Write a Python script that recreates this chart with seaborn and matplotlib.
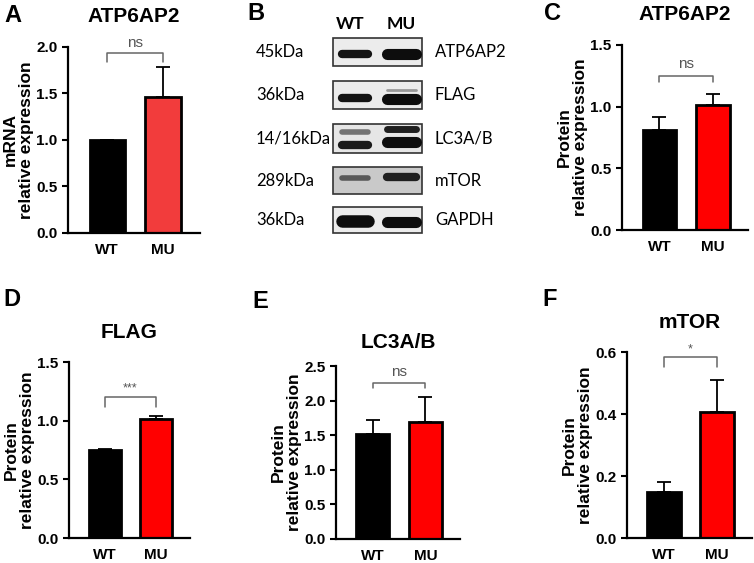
import numpy as np
import pandas as pd
import matplotlib
matplotlib.use("Agg")
import matplotlib.pyplot as plt
import seaborn as sns
from matplotlib.ticker import FormatStrFormatter

sns.set_style("ticks")
plt.rcParams['font.family'] = ['Liberation Sans', 'DejaVu Sans']
for k in ['text.color', 'axes.labelcolor', 'xtick.color', 'ytick.color', 'axes.edgecolor']:
    plt.rcParams[k] = 'black'

groups = ['WT', 'MU']

# bar charts: mean and upper SD end
mrna_atp_mean = [1.00, 1.46]
mrna_atp_top = [1.00, 1.78]
prot_atp_mean = [0.81, 1.01]
prot_atp_top = [0.92, 1.10]
flag_mean = [0.75, 1.01]
flag_top = [0.76, 1.04]
lc3_mean = [1.52, 1.69]
lc3_top = [1.72, 2.05]
mtor_mean = [0.147, 0.408]
mtor_top = [0.182, 0.51]

# western blot labels
blot_proteins = ['ATP6AP2', 'FLAG', 'LC3A/B', 'mTOR', 'GAPDH']
blot_sizes = ['45kDa', '36kDa', '14/16kDa', '289kDa', '36kDa']

W, H = 754, 563
fig = plt.figure(figsize=(W / 100, H / 100), dpi=100)


def px_axes(left, top, right, bottom):
    return fig.add_axes([left / W, 1 - bottom / H, (right - left) / W, (bottom - top) / H])


def bar_panel(box, mean, top, colors, ylim, step, ylabel, title, title_y,
              sig, bracket_y, leg_y, sig_y, letter, letter_xy):
    ax = px_axes(*box)
    df = pd.DataFrame({'group': groups, 'value': mean})
    yerr = np.array(top) - np.array(mean)
    ax.errorbar([0, 1], mean, yerr=[[0, 0], yerr], fmt='none', ecolor='black',
                elinewidth=1.3, capsize=5, capthick=1.3, zorder=1)
    sns.barplot(data=df, x='group', y='value', hue='group', palette=colors,
                saturation=1, edgecolor='black', linewidth=2, width=0.63,
                legend=False, ax=ax, zorder=2)
    ax.set_xlim(-0.7, 1.66)
    ax.set_ylim(0, ylim)
    ax.set_yticks(np.arange(0, ylim + 1e-9, step))
    ax.yaxis.set_major_formatter(FormatStrFormatter('%.1f'))
    sns.despine(ax=ax)
    for s in ['left', 'bottom']:
        ax.spines[s].set_linewidth(1.6)
    ax.tick_params(axis='y', length=4, width=1.5, labelsize=11)
    ax.tick_params(axis='x', length=0, labelsize=11, pad=7)
    for t in ax.get_xticklabels() + ax.get_yticklabels():
        t.set_fontweight('bold')
    ax.set_xlabel('')
    ax.set_ylabel(ylabel, fontsize=12.5, fontweight='bold', linespacing=1.05,
                  labelpad=2)
    # significance bracket
    ax.plot([0, 0, 1, 1], [leg_y, bracket_y, bracket_y, leg_y], color='#666666',
            lw=1.1, clip_on=False)
    ax.text(0.5, sig_y, sig, ha='center', va='bottom', color='#555555',
            fontsize=11 if sig == 'ns' else 9, clip_on=False)
    cx = (box[0] + box[2]) / 2
    fig.text(cx / W, 1 - title_y / H, title, ha='center', va='center',
             fontsize=15, fontweight='bold')
    fig.text(letter_xy[0] / W, 1 - letter_xy[1] / H, letter, ha='left', va='center',
             fontsize=17, fontweight='bold')
    return ax


bar_panel((68, 47, 200, 233), mrna_atp_mean, mrna_atp_top, ['black', '#f23c3c'],
          2.0, 0.5, 'mRNA\nrelative expression', 'ATP6AP2', 17,
          'ns', 1.935, 1.84, 1.97, 'A', (4, 16))
bar_panel((622, 45, 748, 230), prot_atp_mean, prot_atp_top, ['black', '#ff0000'],
          1.5, 0.5, 'Protein\nrelative expression', 'ATP6AP2', 15,
          'ns', 1.25, 1.20, 1.29, 'C', (544, 13))
bar_panel((69, 362, 190, 538), flag_mean, flag_top, ['black', '#ff0000'],
          1.5, 0.5, 'Protein\nrelative expression', 'FLAG', 333,
          '***', 1.20, 1.12, 1.22, 'D', (3, 300))
bar_panel((336, 366, 460, 539), lc3_mean, lc3_top, ['black', '#ff0000'],
          2.5, 0.5, 'Protein\nrelative expression', 'LC3A/B', 342,
          'ns', 2.25, 2.18, 2.31, 'E', (252, 302))
bar_panel((627, 352, 752, 538), mtor_mean, mtor_top, ['black', '#ff0000'],
          0.6, 0.2, 'Protein\nrelative expression', 'mTOR', 322,
          '*', 0.584, 0.552, 0.59, 'F', (542, 300))

# panel B: western blot sketch, local pixel units
axb = px_axes(240, 0, 510, 250)
axb.set_xlim(0, 270)
axb.set_ylim(250, 0)
axb.axis('off')
box_rows = [(38, 66), (81, 109), (124, 153), (167, 194), (207, 233)]
box_fill = ['#ececec', '#ececec', '#e6e6e6', '#c9c9c9', '#ececec']
# bands: (lane, y, thickness, gray level)
bands = [
    [(0, 54, 6, 0.08), (1, 54, 8, 0.05)],
    [(0, 98, 6, 0.08), (1, 90, 2, 0.6), (1, 99, 8, 0.05)],
    [(0, 132, 4, 0.45), (0, 145, 6, 0.1), (1, 129, 5, 0.12), (1, 142, 8, 0.05)],
    [(0, 178, 4, 0.35), (1, 177, 6, 0.12)],
    [(0, 221, 9, 0.05), (1, 222, 8, 0.05)],
]
lane_x = [(102, 128), (147, 176)]
for i, (t, b) in enumerate(box_rows):
    axb.add_patch(plt.Rectangle((93, t), 89, b - t, facecolor=box_fill[i],
                                edgecolor='#333333', lw=1.2))
    for lane, y, th, g in bands[i]:
        x0, x1 = lane_x[lane]
        axb.plot([x0, x1], [y, y], color=str(g), lw=th, solid_capstyle='round')
    yc = (t + b) / 2
    axb.text(16, yc, blot_sizes[i], ha='left', va='center', fontsize=12,
             family=['Lato', 'DejaVu Sans'])
    axb.text(195, yc, blot_proteins[i], ha='left', va='center', fontsize=12,
             family=['Lato', 'DejaVu Sans'])
axb.text(110, 24, 'WT', ha='center', va='center', fontsize=12.5, fontweight='bold',
         family=['Lato', 'DejaVu Sans'])
axb.text(161, 24, 'MU', ha='center', va='center', fontsize=12.5, fontweight='bold',
         family=['Lato', 'DejaVu Sans'])
fig.text(247 / W, 1 - 13 / H, 'B', ha='left', va='center', fontsize=17,
         fontweight='bold')

fig.savefig('out.png', dpi=100)
